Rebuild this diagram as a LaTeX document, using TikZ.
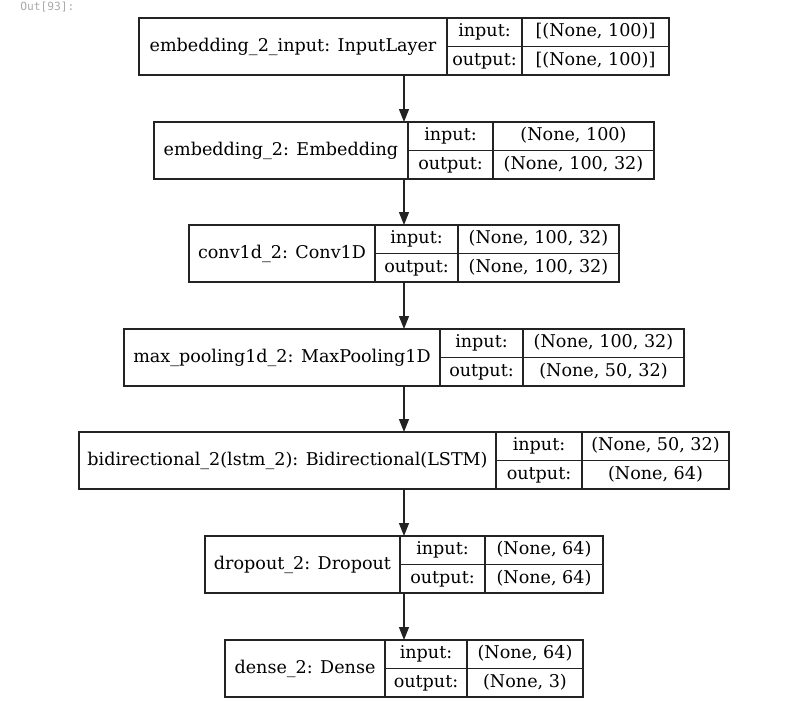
\documentclass[tikz,border=0pt]{standalone}
\usepackage{fontspec}
\setmainfont{DejaVu Serif}
\newfontfamily\promptfont{DejaVu Sans Mono}
\usetikzlibrary{arrows.meta,positioning,fit}
\definecolor{promptgray}{RGB}{170,170,170}
\definecolor{linegray}{RGB}{35,35,35}

\tikzset{
  layer/.style={draw=linegray, line width=0.7pt, inner sep=0pt, outer sep=0pt},
  cell/.style={draw=linegray, line width=0.7pt},
  txt/.style={inner sep=0pt, font=\fontsize{10}{12}\selectfont, text height=0.72em, text depth=0.2em},
  arr/.style={-{Triangle[length=0.26cm,width=0.2cm]}, line width=0.7pt, draw=linegray},
  prompt/.style={anchor=west, inner sep=0pt, text=promptgray, font=\fontsize{6.4}{7}\promptfont}
}

% one Keras layer: id, top, left, split1, split2, right, name, input, output
\newcommand{\layerbox}[9]{%
  \coordinate (#1-nw) at (#3,#2);
  \coordinate (#1-se) at (#6,#2+57);
  \node[layer, fit=(#1-nw)(#1-se)] (#1) {};
  \draw[cell] (#4,#2) -- (#4,#2+57) (#5,#2) -- (#5,#2+57) (#4,#2+28.5) -- (#6,#2+28.5);
  \node[txt] (#1-name) at ({(#3+#4)/2},#2+28.5) {#7};
  \node[txt] (#1-inlbl) at ({(#4+#5)/2},#2+14.25) {input:};
  \node[txt] (#1-outlbl) at ({(#4+#5)/2},#2+42.75) {output:};
  \node[txt] (#1-inval) at ({(#5+#6)/2},#2+14.25) {#8};
  \node[txt] (#1-outval) at ({(#5+#6)/2},#2+42.75) {#9};
}

\begin{document}
\begin{tikzpicture}[x=0.02cm, y=-0.02cm]
    \useasboundingbox (0,0) rectangle (808,724);

    % Prompt
    \node[prompt] (out) at (20,7) {Out[93]:};

    % Layers
    \layerbox{inp}{18}{139}{447}{522}{669}{embedding\_2\_input: InputLayer}{[(None, 100)]}{[(None, 100)]}
    \layerbox{emb}{122}{154}{408}{493}{654}{embedding\_2: Embedding}{(None, 100)}{(None, 100, 32)}
    \layerbox{conv}{225}{189}{375}{458}{619}{conv1d\_2: Conv1D}{(None, 100, 32)}{(None, 100, 32)}
    \layerbox{pool}{329}{124}{440}{523}{684}{max\_pooling1d\_2: MaxPooling1D}{(None, 100, 32)}{(None, 50, 32)}
    \layerbox{bilstm}{432}{79}{496}{582}{729}{bidirectional\_2(lstm\_2): Bidirectional(LSTM)}{(None, 50, 32)}{(None, 64)}
    \layerbox{drop}{536}{205}{400}{485}{603}{dropout\_2: Dropout}{(None, 64)}{(None, 64)}
    \layerbox{dense}{640}{225}{385}{467}{583}{dense\_2: Dense}{(None, 64)}{(None, 3)}

    % Arrows
    \draw[arr] (inp.south) -- (inp.south |- emb.north);
    \draw[arr] (emb.south) -- (emb.south |- conv.north);
    \draw[arr] (conv.south) -- (conv.south |- pool.north);
    \draw[arr] (pool.south) -- (pool.south |- bilstm.north);
    \draw[arr] (bilstm.south) -- (bilstm.south |- drop.north);
    \draw[arr] (drop.south) -- (drop.south |- dense.north);
\end{tikzpicture}
\end{document}
